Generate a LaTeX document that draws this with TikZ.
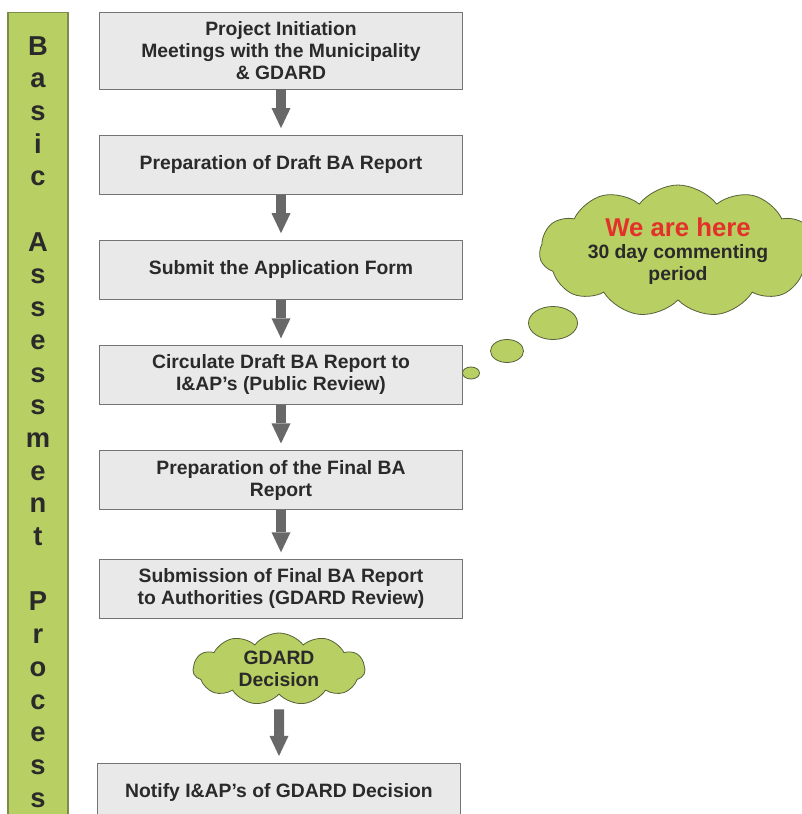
\documentclass[tikz,border=0pt]{standalone}
\usepackage{fontspec}
\setmainfont{Liberation Sans}
\usetikzlibrary{shapes,arrows.meta,positioning}

\definecolor{barGreen}{HTML}{B8CF63}
\definecolor{barEdge}{HTML}{7D8C4A}
\definecolor{cloudEdge}{HTML}{56613A}
\definecolor{boxGray}{HTML}{E9E9E9}
\definecolor{edgeGray}{HTML}{747474}
\definecolor{arrowGray}{HTML}{686868}
\definecolor{inkGray}{HTML}{2A2A2A}
\definecolor{hereRed}{HTML}{E3312A}

\begin{document}
\begin{tikzpicture}[
      x = 0.75pt,
      y = -0.75pt,
      node distance = 34pt,
      font = \bfseries\fontsize{14.5}{16.5}\selectfont,
      text = inkGray,
      semithick]

      \tikzstyle{stage}=[
      draw = edgeGray,
      fill = boxGray,
      minimum width = 272.25pt,
      minimum height = 44.25pt,
      inner sep = 2pt,
      align = center]

      \tikzstyle{bubble}=[
      cloud,
      cloud puffs = 11,
      cloud puff arc = 105,
      cloud ignores aspect,
      draw = cloudEdge,
      fill = barGreen,
      inner sep = 0pt,
      align = center]

      \tikzstyle{puff}=[
      ellipse,
      draw = cloudEdge,
      fill = barGreen,
      inner sep = 0pt]

      \tikzstyle{flow}=[
      draw = arrowGray,
      line width = 7.5pt,
      -{Triangle[length=15pt, width=14.25pt, line width=0pt 0]},
      shorten > = 5pt]

      \useasboundingbox (0,0) rectangle (801,814);

      % side bar
      \node[draw = barEdge, fill = barGreen, thick, minimum width = 45pt,
            minimum height = 613.5pt, anchor = north] (bar) at (38,12) {};
      \foreach \ch [count=\k] in {B,a,s,i,c,{},A,s,s,e,s,s,m,e,n,t,{},P,r,o,c,e,s,s}
        \node[anchor = base, font = \bfseries\fontsize{20.5}{24}\selectfont] (ltr\k) at (38,22.3+32.7*\k) {\ch};

      % process steps
      \node[stage, minimum height = 57.75pt] (init) at (281,50.5)
        {Project Initiation\\Meetings with the Municipality\\\& GDARD};
      \node[stage] (draft) [below=of init] {Preparation of Draft BA Report};
      \node[stage] (apply) [below=of draft] {Submit the Application Form};
      \node[stage] (circ) [below=of apply] {Circulate Draft BA Report to\\I\&AP’s (Public Review)};
      \node[stage] (final) [below=of circ] {Preparation of the Final BA\\Report};
      \node[stage] (submit) [below=36.75pt of final] {Submission of Final BA Report\\to Authorities (GDARD Review)};
      \node[bubble, minimum width = 129pt, minimum height = 54pt] (decide) at (279,669) {GDARD\\Decision};
      \node[stage] (notify) at (279,792.5) {Notify I\&AP’s of GDARD Decision};

      % thought cloud
      \node[bubble, minimum width = 208pt, minimum height = 99pt] (here) at (678,251)
        {{\color{hereRed}\fontsize{19.3}{20}\selectfont We are here}\\30 day commenting\\period};
      \node[puff, minimum width = 36.75pt, minimum height = 24.75pt] (puffa) at (553,323) {};
      \node[puff, minimum width = 24.75pt, minimum height = 17.25pt] (puffb) at (507,351) {};
      \node[puff, minimum width = 12.75pt, minimum height = 9pt] (puffc) at (471,373) {};

      \draw[flow] (init.south) -- (draft.north);
      \draw[flow] (draft.south) -- (apply.north);
      \draw[flow] (apply.south) -- (circ.north);
      \draw[flow] (circ.south) -- (final.north);
      \draw[flow] (final.south) -- (submit.north);
      \draw[flow, shorten < = 11pt] (decide.south) -- (notify.north);
\end{tikzpicture}
\end{document}
